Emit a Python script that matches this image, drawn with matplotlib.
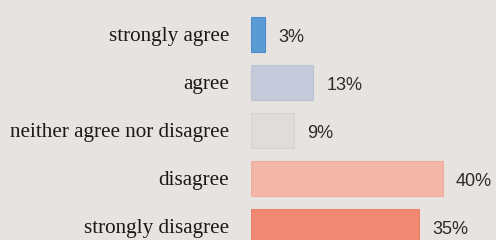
import matplotlib
matplotlib.use("Agg")
import matplotlib.pyplot as plt

categories = ["strongly agree", "agree", "neither agree nor disagree",
              "disagree", "strongly disagree"]
values = [3, 13, 9, 40, 35]
value_labels = ["3%", "13%", "9%", "40%", "35%"]
colors = ["#5b9bd5", "#c5cbdb", "#e0dcd9", "#f4b6a6", "#f08873"]
edges = ["#4a8ccc", "#bcc3d3", "#d8d3d0", "#eeae9e", "#ea8069"]

BG = "#e7e3e0"
W, H = 496, 240
fig = plt.figure(figsize=(W / 100, H / 100), dpi=100, facecolor=BG)
ax = fig.add_axes([251 / W, 0, 1 - 251 / W, 1], facecolor=BG)

px_per_pct = 4.8
row = 48
ys = list(range(len(categories)))
ax.barh(ys, values, height=35 / row, color=colors, edgecolor=edges, linewidth=0.8)
ax.set_xlim(0, (W - 251) / px_per_pct)
ax.set_ylim((H - 34) / row, -34 / row)

for y, v, lab in zip(ys, values, value_labels):
    ax.annotate(lab, (v, y), xytext=(9.4, -2.2), textcoords="offset points",
                va="center", ha="left", fontsize=13, color="#2b2b2b",
                family="Liberation Sans")

ax.set_yticks(ys)
ax.set_yticklabels(categories, family="Liberation Serif", fontsize=15.2, color="#1a1a1a")
ax.tick_params(axis="y", length=0, pad=15.8)
ax.set_xticks([])
for s in ax.spines.values():
    s.set_visible(False)

fig.savefig("out.png", dpi=100, facecolor=BG)
